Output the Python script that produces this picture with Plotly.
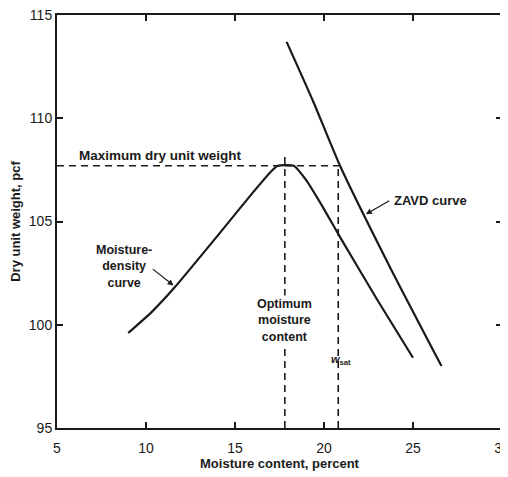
"""Moisture-density (compaction) curve with the ZAVD line."""

import plotly.graph_objects as go

# moisture-density curve (w %, dry unit weight pcf)
md_w = [9.0, 10.3, 11.6, 14.2, 16.0, 17.0, 17.4, 18.3, 19.0, 20.0, 21.0, 23.0, 25.0]
md_gd = [99.6, 100.6, 101.8, 104.5, 106.4, 107.4, 107.7, 107.7, 107.0, 105.6, 104.1, 101.2, 98.4]

# zero-air-voids curve
zavd_w = [17.9, 19.4, 20.9, 23.7, 26.6]
zavd_gd = [113.7, 110.8, 107.7, 102.8, 98.0]

# reference values
w_opt = 17.8
w_sat = 20.8
gd_max = 107.7

x_ticks = [5, 10, 15, 20, 25, 30]
y_ticks = [95, 100, 105, 110, 115]

FONT = "Liberation Sans, Arial, sans-serif"
INK = "#1a1a1a"

fig = go.Figure()

dash = dict(color=INK, width=1.6, dash="7px,5px")
fig.add_trace(go.Scatter(x=[5, zavd_w[2]], y=[gd_max, gd_max], mode="lines", line=dash))
fig.add_trace(go.Scatter(x=[w_opt, w_opt], y=[95, 108.3], mode="lines", line=dash))
fig.add_trace(go.Scatter(x=[w_sat, w_sat], y=[95, gd_max], mode="lines", line=dash))

fig.add_trace(go.Scatter(x=md_w, y=md_gd, mode="lines",
                         line=dict(color=INK, width=2.2, shape="spline", smoothing=0.4)))
fig.add_trace(go.Scatter(x=zavd_w, y=zavd_gd, mode="lines",
                         line=dict(color=INK, width=2.2, shape="spline", smoothing=0.6)))

txt = dict(family=FONT, size=12.5, color=INK)

fig.add_annotation(x=10.8, y=108.2, text="<b>Maximum dry unit weight</b>",
                   showarrow=False, font=dict(family=FONT, size=13.5, color=INK))
fig.add_annotation(x=w_opt, y=100.2, text="<b>Optimum<br>moisture<br>content</b>",
                   showarrow=False, font=txt, bgcolor="white")
fig.add_annotation(x=8.75, y=102.8, text="<b>Moisture-<br>density<br>curve</b>",
                   showarrow=False, font=txt)
fig.add_annotation(x=11.55, y=101.9, ax=10.3, ay=102.75, xref="x", yref="y",
                   axref="x", ayref="y", text="", showarrow=True,
                   arrowhead=2, arrowsize=1, arrowwidth=1.2, arrowcolor=INK)
fig.add_annotation(x=26.0, y=106.0, text="<b>ZAVD curve</b>",
                   showarrow=False, font=dict(family=FONT, size=13, color=INK))
fig.add_annotation(x=22.35, y=105.35, ax=23.75, ay=106.05, xref="x", yref="y",
                   axref="x", ayref="y", text="", showarrow=True,
                   arrowhead=2, arrowsize=1, arrowwidth=1.2, arrowcolor=INK)
fig.add_annotation(x=20.95, y=98.3, text="<b><i>w</i><sub>sat</sub></b>",
                   showarrow=False, font=dict(family=FONT, size=11, color=INK))

axis = dict(showline=True, linecolor=INK, linewidth=2, mirror="ticks",
            ticks="inside", ticklen=6, tickwidth=1.5, tickcolor=INK,
            showgrid=False, zeroline=False, automargin=False,
            ticklabeloverflow="allow",
            tickfont=dict(family=FONT, size=14, color=INK))

fig.update_xaxes(range=[5, 30], tickvals=x_ticks, ticklabelstandoff=6, **axis,
                 title=dict(text="<b>Moisture content, percent</b>", standoff=2,
                            font=dict(family=FONT, size=13, color=INK)))
fig.update_yaxes(range=[95, 115], tickvals=y_ticks, **axis,
                 title=dict(text="<b>Dry unit weight, pcf</b>", standoff=5,
                            font=dict(family=FONT, size=13, color=INK)))

# page body adds an 8px offset, so the figure is a little smaller than the window
fig.update_layout(
    width=500,
    height=469,
    showlegend=False,
    plot_bgcolor="white",
    paper_bgcolor="white",
    margin=dict(l=49, r=6, t=7, b=49),
)

fig.write_html("out.html")
